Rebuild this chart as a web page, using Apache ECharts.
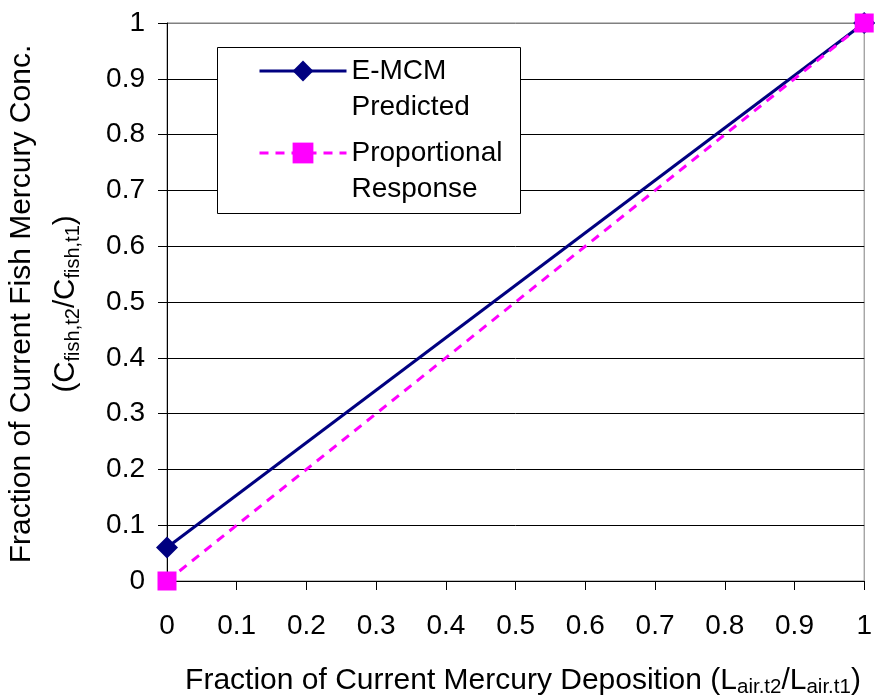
<!DOCTYPE html>
<html>
<head>
<meta charset="utf-8">
<script src="https://cdn.jsdelivr.net/npm/echarts@6/dist/echarts.min.js"></script>
<style>
html,body{margin:0;padding:0;background:#fff;}
#chart{width:875px;height:698px;}
</style>
</head>
<body>
<div id="chart"></div>
<script>
// ---- data ----
const xValues = [0, 1];
const emcmValues = [0.06, 1];
const propValues = [0, 1];
const seriesNames = ['E-MCM Predicted', 'Proportional Response'];
const xTickLabels = ['0','0.1','0.2','0.3','0.4','0.5','0.6','0.7','0.8','0.9','1'];
const yTickLabels = ['0','0.1','0.2','0.3','0.4','0.5','0.6','0.7','0.8','0.9','1'];
const xTitleMain = 'Fraction of Current Mercury Deposition (L';
const yTitleLine1 = 'Fraction of Current Fish Mercury Conc.';

const FONT = '"Liberation Sans", Arial, sans-serif';
const chart = echarts.init(document.getElementById('chart'), null, {renderer: 'canvas'});

function pairs(xs, ys) { return xs.map((x, i) => [x, ys[i]]); }
function tickFmt(labels) { return v => labels[Math.round(v * 10)]; }

const splitColors = [];
for (let i = 0; i < 10; i++) splitColors.push('#000000');
splitColors.push('#808080');

const option = {
  animation: false,
  backgroundColor: '#ffffff',
  textStyle: {fontFamily: FONT},
  grid: {left: 167, right: 9, top: 23, bottom: 117, show: true, borderColor: '#808080', borderWidth: 1, backgroundColor: 'transparent'},
  xAxis: {
    type: 'value', min: 0, max: 1, interval: 0.1,
    axisLine: {show: true, lineStyle: {color: '#000', width: 1}},
    axisTick: {show: true, inside: false, length: 9, lineStyle: {color: '#000'}},
    splitLine: {show: false},
    axisLabel: {fontSize: 28, color: '#000', fontFamily: FONT, margin: 31, formatter: tickFmt(xTickLabels), showMinLabel: true, showMaxLabel: true}
  },
  yAxis: {
    type: 'value', min: 0, max: 1, interval: 0.1,
    axisLine: {show: true, lineStyle: {color: '#000', width: 1}},
    axisTick: {show: true, inside: false, length: 9, lineStyle: {color: '#000'}},
    splitLine: {show: true, lineStyle: {color: splitColors, width: 1}},
    axisLabel: {fontSize: 28, color: '#000', fontFamily: FONT, margin: 22, formatter: tickFmt(yTickLabels)}
  },
  legend: {
    orient: 'vertical', left: 258, top: 17, padding: 0,
    itemWidth: 87, itemHeight: 26, itemGap: -26,
    selectedMode: false,
    data: seriesNames,
    lineStyle: {width: 3},
    formatter: name => '\n' + name.replace(' ', '\n'),
    textStyle: {fontSize: 28, lineHeight: 36, color: '#000', fontFamily: FONT}
  },
  graphic: [
    {type: 'rect', z: 3, shape: {x: 217.5, y: 47.5, width: 303, height: 166}, style: {fill: '#fff', stroke: '#000', lineWidth: 1}},
    {type: 'text', z: 5, x: 22, y: 304, rotation: Math.PI / 2,
      style: {text: yTitleLine1, font: '30px ' + FONT, fill: '#000', align: 'center', verticalAlign: 'middle'}},
    {type: 'text', z: 5, x: 66, y: 304, rotation: Math.PI / 2,
      style: {text: '(C{s|fish,t2}/C{s|fish,t1})', fontSize: 29.5, fontFamily: FONT, fill: '#000', align: 'center', verticalAlign: 'middle', lineHeight: 34,
        rich: {s: {fontSize: 20, fontFamily: FONT, fill: '#000', verticalAlign: 'bottom', lineHeight: 34}}}},
    {type: 'text', z: 5, x: 523, y: 681,
      style: {text: xTitleMain + '{s|air.t2}/L{s|air.t1})', fontSize: 30, fontFamily: FONT, fill: '#000', align: 'center', verticalAlign: 'middle', lineHeight: 34,
        rich: {s: {fontSize: 20.5, fontFamily: FONT, fill: '#000', verticalAlign: 'bottom', lineHeight: 34}}}}
  ],
  series: [
    {
      name: seriesNames[0], type: 'line', data: pairs(xValues, emcmValues),
      symbol: 'diamond', symbolSize: 22, clip: false,
      itemStyle: {color: '#000080'},
      lineStyle: {color: '#000080', width: 3}
    },
    {
      name: seriesNames[1], type: 'line', data: pairs(xValues, propValues),
      symbol: 'rect', symbolSize: 19, clip: false,
      itemStyle: {color: '#FF00FF'},
      lineStyle: {color: '#FF00FF', width: 3, type: [9, 7]}
    }
  ]
};
chart.setOption(option);
</script>
</body>
</html>
